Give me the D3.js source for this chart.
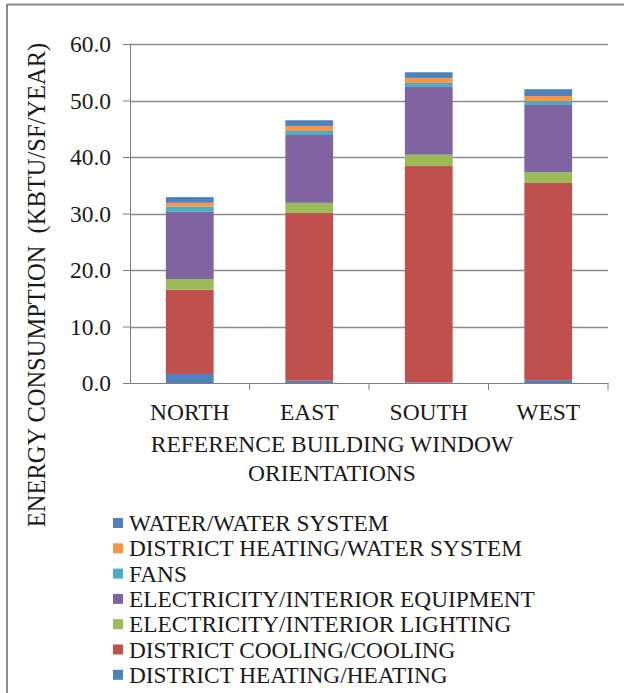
<!DOCTYPE html>
<html>
<head>
<meta charset="utf-8">
<script src="https://cdn.jsdelivr.net/npm/d3@7"></script>
<style>
  body { margin: 0; background: #fff; }
  text { font-family: "Liberation Serif", "Times New Roman", serif; fill: #1a1a1a; }
</style>
</head>
<body>
<svg id="chart" width="624" height="693"></svg>
<script>
// categories and series (bottom to top of the stack)
var orientations = ['NORTH', 'EAST', 'SOUTH', 'WEST'];
var seriesNames = [
  'DISTRICT HEATING/HEATING',
  'DISTRICT COOLING/COOLING',
  'ELECTRICITY/INTERIOR LIGHTING',
  'ELECTRICITY/INTERIOR EQUIPMENT',
  'FANS',
  'DISTRICT HEATING/WATER SYSTEM',
  'WATER/WATER SYSTEM'
];
var heating     = [1.6, 0.4, 0.1, 0.5];
var cooling     = [14.9, 29.7, 38.3, 34.9];
var lighting    = [1.9, 1.8, 2.0, 1.9];
var equipment   = [11.9, 12.0, 12.0, 11.9];
var fans        = [0.9, 0.7, 0.7, 0.7];
var dhw         = [0.7, 0.9, 0.9, 0.9];
var water       = [1.0, 1.0, 1.0, 1.2];
var yTicks = [0, 10, 20, 30, 40, 50, 60];
var colors = ['#4F81BD', '#C0504D', '#9BBB59', '#8064A2', '#4BACC6', '#F79646', '#4F81BD'];

var seriesValues = [heating, cooling, lighting, equipment, fans, dhw, water];
var table = orientations.map(function(o, i) {
  var row = { cat: o };
  seriesNames.forEach(function(s, k) { row[s] = seriesValues[k][i]; });
  return row;
});

var svg = d3.select('#chart');
var fs = '23.5px';

// frame (only top and left visible)
svg.append('line').attr('x1', 7).attr('x2', 624).attr('y1', 4.5).attr('y2', 4.5)
  .attr('stroke', '#8a8a8a').attr('stroke-width', 2);
svg.append('line').attr('x1', 7).attr('x2', 7).attr('y1', 4).attr('y2', 693)
  .attr('stroke', '#8a8a8a').attr('stroke-width', 2);

var plotLeft = 130, plotRight = 608, plotTop = 44, plotBottom = 383;

var x = d3.scaleBand().domain(orientations).range([plotLeft, plotRight]).paddingInner(0.6).paddingOuter(0.3);
var xb = d3.scaleBand().domain(orientations).range([plotLeft, plotRight]);
var y = d3.scaleLinear().domain([0, 60]).range([plotBottom, plotTop]);

// gridlines
svg.append('g').selectAll('line').data(yTicks.slice(1)).join('line')
  .attr('x1', plotLeft).attr('x2', plotRight)
  .attr('y1', function(d) { return Math.round(y(d)) + 0.5; })
  .attr('y2', function(d) { return Math.round(y(d)) + 0.5; })
  .attr('stroke', '#8c8c8c').attr('stroke-width', 1.5);

// stacked bars
var stack = d3.stack().keys(seriesNames)(table);
svg.append('g').selectAll('g').data(stack).join('g')
  .attr('fill', function(d, i) { return colors[i]; })
  .selectAll('rect').data(function(d) { return d; }).join('rect')
  .attr('x', function(d) { return x(d.data.cat); })
  .attr('width', x.bandwidth())
  .attr('y', function(d) { return y(d[1]); })
  .attr('height', function(d) { return y(d[0]) - y(d[1]); });

// y axis
var yAxis = d3.axisLeft(y).tickValues(yTicks).tickSize(7).tickPadding(12)
  .tickFormat(d3.format('.1f'));
var gy = svg.append('g').attr('transform', 'translate(' + plotLeft + ',0)').call(yAxis);
gy.selectAll('line, path').attr('stroke', '#7f7f7f');
gy.selectAll('text').style('font-size', fs).style('font-family', '"Liberation Serif", serif').attr('fill', '#1a1a1a');

// x axis
var xAxis = d3.axisBottom(xb).tickSize(0).tickPadding(20);
var gx = svg.append('g').attr('transform', 'translate(0,' + plotBottom + ')').call(xAxis);
gx.select('path').attr('stroke', '#7f7f7f');
gx.selectAll('text').style('font-size', fs).style('font-family', '"Liberation Serif", serif').attr('fill', '#1a1a1a');
gx.selectAll('.sep').data(orientations.slice(1).concat(['_end'])).join('line')
  .attr('class', 'sep')
  .attr('x1', function(d) { return d === '_end' ? plotRight : xb(d); })
  .attr('x2', function(d) { return d === '_end' ? plotRight : xb(d); })
  .attr('y1', 0).attr('y2', 7).attr('stroke', '#7f7f7f');

// axis titles
svg.append('text').attr('x', 332).attr('y', 452).attr('text-anchor', 'middle')
  .style('font-size', fs).text('REFERENCE BUILDING WINDOW');
svg.append('text').attr('x', 332).attr('y', 481).attr('text-anchor', 'middle')
  .style('font-size', fs).text('ORIENTATIONS');
svg.append('text').attr('transform', 'translate(45,285) rotate(-90)').attr('text-anchor', 'middle')
  .style('font-size', '24.5px').style('white-space', 'pre').text('ENERGY CONSUMPTION  (KBTU/SF/YEAR)');

// legend, top-most series first
var legendItems = seriesNames.map(function(s, i) { return { name: s, color: colors[i] }; }).reverse();
var lg = svg.append('g').selectAll('g').data(legendItems).join('g')
  .attr('transform', function(d, i) { return 'translate(113,' + (523 + i * 25.3) + ')'; });
lg.append('rect').attr('x', 0).attr('y', -5).attr('width', 10).attr('height', 10)
  .attr('fill', function(d) { return d.color; });
lg.append('text').attr('x', 16).attr('y', 8).style('font-size', '23.3px')
  .text(function(d) { return d.name; });
</script>
</body>
</html>
